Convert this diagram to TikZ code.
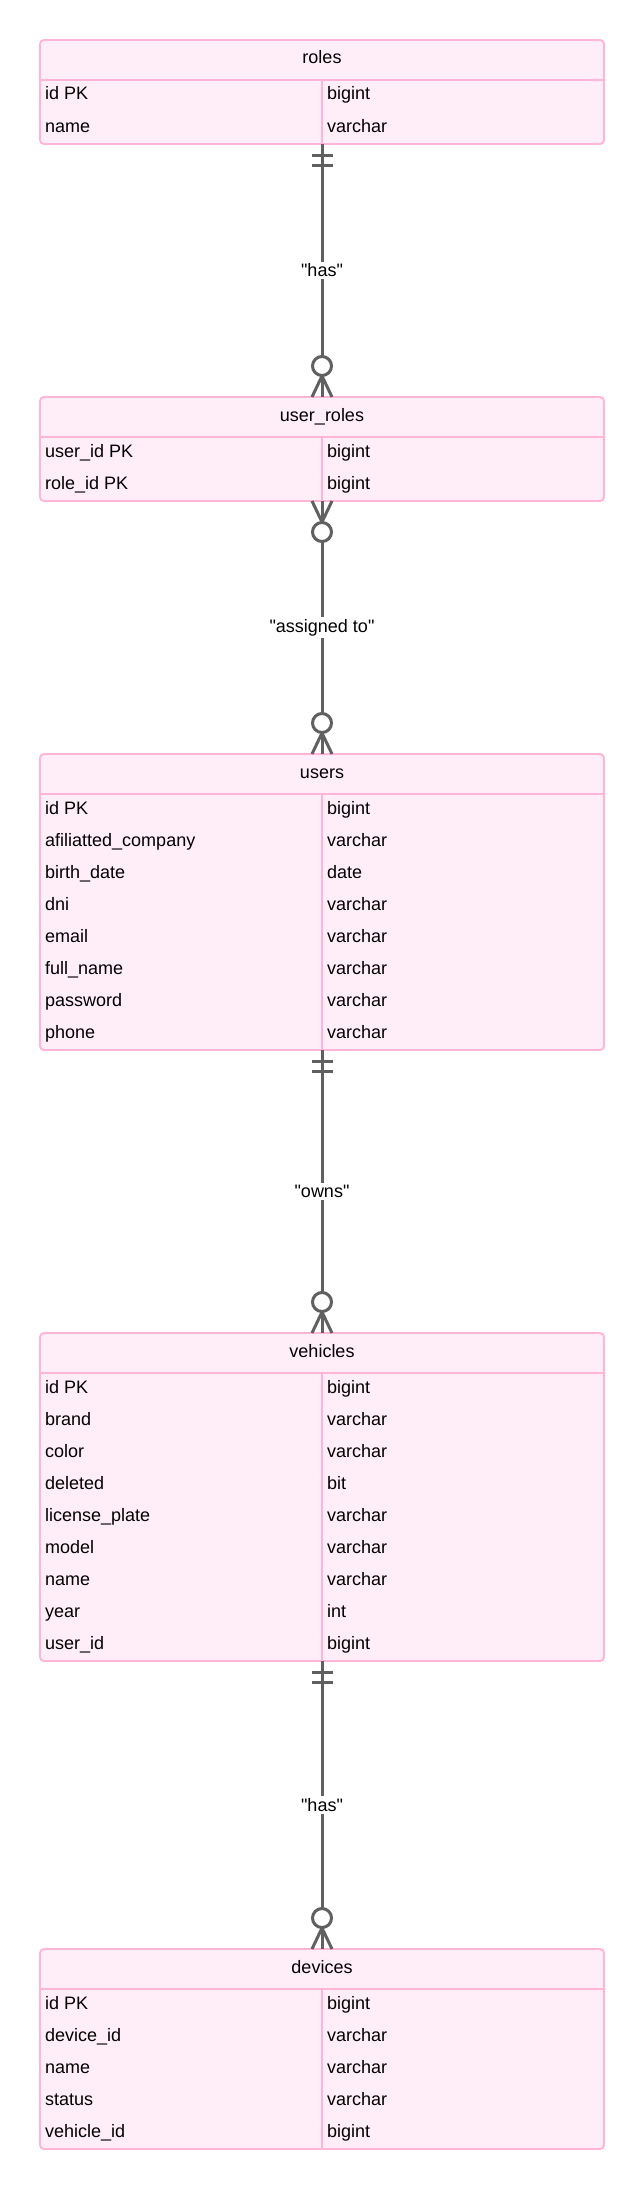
\documentclass[tikz,border=0pt]{standalone}
\usepackage{fontspec}
\setmainfont{Liberation Sans}[Ligatures=TeXOff]
\usetikzlibrary{calc}
\definecolor{entfill}{RGB}{255,238,248}
\definecolor{entborder}{RGB}{255,180,216}
\definecolor{relcol}{RGB}{96,96,96}
\tikzset{
  entbox/.style={draw=entborder, fill=entfill, line width=1.9pt, rounded corners=4pt,
    minimum width=564pt, inner sep=0pt, outer sep=0pt},
  entline/.style={draw=entborder, line width=1.7pt},
  rel/.style={draw=relcol, line width=3pt},
  lbl/.style={fill=white, inner sep=2pt},
  celltext/.style={anchor=base west, inner sep=0pt},
}
% #1 name, #2 title, #3 top (px), #4 number of rows, #5 rows
\newcommand{\erentity}[5]{%
  \node[entbox, minimum height={(40+32*#4)*1pt}] (#1) at (322,{#3+(40+32*#4)/2}) {};
  \draw[entline] (40.9,#3+40) -- (603.1,#3+40);
  \draw[entline] (322,#3+40) -- (322,{#3+40+32*#4-0.9});
  \node[anchor=base, inner sep=0pt] (#1-t) at (322,#3+24) {#2};
  \foreach \a/\b [count=\i] in {#5} {
    \node[celltext] (#1-a\i) at (45,{#3+40+32*(\i-1)+20}) {\a};
    \node[celltext] (#1-b\i) at (327,{#3+40+32*(\i-1)+20}) {\b};
  }
}
\begin{document}
\begin{tikzpicture}[x=1pt, y=-1pt, font=\fontsize{18}{22}\selectfont]
\fill[white] (0,0) rectangle (644,2189);
\useasboundingbox (0,0) rectangle (644,2189);

\erentity{roles}{roles}{40}{2}{id PK/bigint, name/varchar}
\erentity{userroles}{user\_roles}{397}{2}{user\_id PK/bigint, role\_id PK/bigint}
\erentity{users}{users}{754}{8}{id PK/bigint, afiliatted\_company/varchar, birth\_date/date, dni/varchar, email/varchar, full\_name/varchar, password/varchar, phone/varchar}
\erentity{vehicles}{vehicles}{1333}{9}{id PK/bigint, brand/varchar, color/varchar, deleted/bit, license\_plate/varchar, model/varchar, name/varchar, year/int, user\_id/bigint}
\erentity{devices}{devices}{1949}{5}{id PK/bigint, device\_id/varchar, name/varchar, status/varchar, vehicle\_id/bigint}

% connectors
\draw[rel] (roles.south) -- (userroles.north) node[midway, lbl] (l1) {"has"};
\draw[rel] (userroles.south) -- (users.north) node[midway, lbl] (l2) {"assigned to"};
\draw[rel] (users.south) -- (vehicles.north) node[midway, lbl] (l3) {"owns"};
\draw[rel] (vehicles.south) -- (devices.north) node[midway, lbl] (l4) {"has"};

% exactly-one marks
\foreach \n in {roles, users, vehicles} {
  \draw[rel] ($(\n.south)+(-10.5,11)$) -- ($(\n.south)+(10.5,11)$);
  \draw[rel] ($(\n.south)+(-10.5,21)$) -- ($(\n.south)+(10.5,21)$);
}
% zero-or-many marks at the lower end
\foreach \n in {userroles, users, vehicles, devices} {
  \draw[rel] ($(\n.north)+(-10,0)$) -- ($(\n.north)+(0,-21)$) -- ($(\n.north)+(10,0)$);
  \draw[rel, fill=white] ($(\n.north)+(0,-31)$) circle[radius=9.5pt];
}
% zero-or-many mark at the upper end (user_roles)
\draw[rel] ($(userroles.south)+(-10,0)$) -- ($(userroles.south)+(0,21)$) -- ($(userroles.south)+(10,0)$);
\draw[rel, fill=white] ($(userroles.south)+(0,31)$) circle[radius=9.5pt];
\end{tikzpicture}
\end{document}
